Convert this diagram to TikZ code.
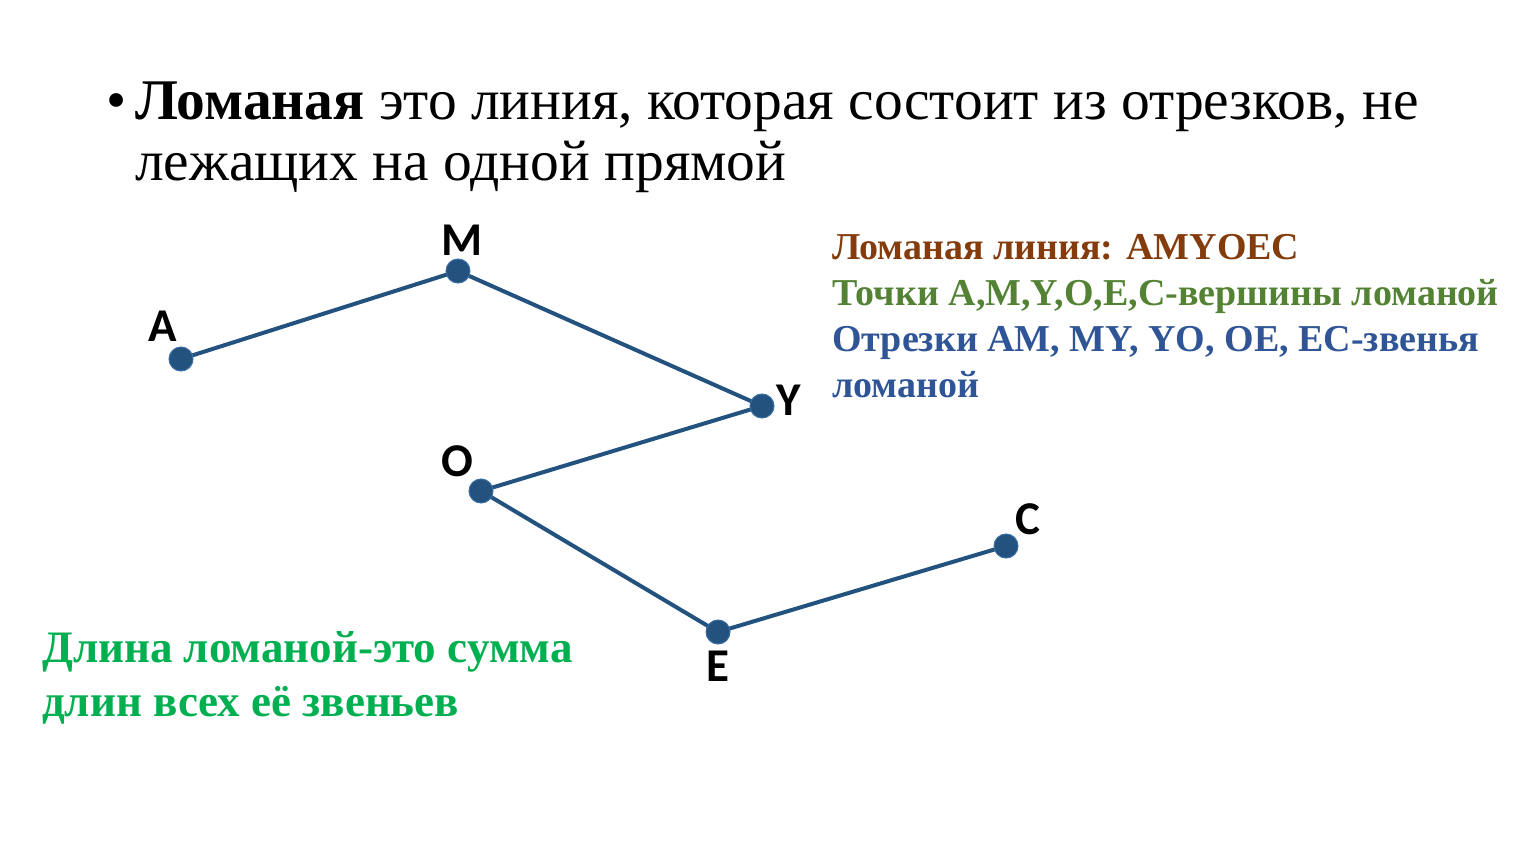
\documentclass[tikz,border=0pt]{standalone}
\usepackage{fontspec}
\setmainfont{Liberation Serif}
\newfontfamily\lblfont{Carlito}[BoldFont={Carlito Bold}]
\definecolor{linecol}{HTML}{24527F}
\definecolor{dotedge}{HTML}{3A6EA5}
\definecolor{browncol}{HTML}{843C0C}
\definecolor{olivecol}{HTML}{548235}
\definecolor{bluecol}{HTML}{2F5597}
\definecolor{greencol}{HTML}{00B050}
\tikzset{
  vtx/.style={circle, fill=linecol, draw=dotedge, line width=1pt, minimum size=24pt, inner sep=0pt},
  lbl/.style={font=\lblfont\bfseries\fontsize{47}{47}\selectfont, text=black, inner sep=0pt},
  seg/.style={draw=linecol, line width=4pt},
  txt/.style={anchor=base west, inner sep=0pt},
}
\begin{document}
\begin{tikzpicture}[x=1pt,y=-1pt]
\useasboundingbox (0,0) rectangle (1533,864);
\fill[white] (0,0) rectangle (1533,864);
% title
\node[txt] (bul) at (106,120) {\fontsize{57.5}{57.5}\selectfont •};
\node[txt] (t1) at (135,120) {\fontsize{57.5}{57.5}\selectfont\textbf{Ломаная} это линия, которая состоит из отрезков, не};
\node[txt] (t2) at (135,180) {\fontsize{57.5}{57.5}\selectfont лежащих на одной прямой};
% polyline
\coordinate (A) at (181,359);
\coordinate (M) at (458,271);
\coordinate (Y) at (762,406);
\coordinate (O) at (481,491);
\coordinate (E) at (718,632);
\coordinate (C) at (1006,546);
\draw[seg] (A) -- (M) -- (Y) -- (O) -- (E) -- (C);
\foreach \p in {A,M,Y,O,E,C} \node[vtx] (v\p) at (\p) {};
\node[lbl] (lA) at (163,326) {A};
\node[lbl] (lM) at (462,240) {M};
\node[lbl] (lY) at (789,400) {Y};
\node[lbl] (lO) at (457,461) {O};
\node[lbl] (lE) at (718,666) {E};
\node[lbl] (lC) at (1028,519) {C};
% right text
\node[txt, text=browncol] (r1) at (832,259) {\fontsize{38}{38}\selectfont\bfseries Ломаная линия: AMYOEC};
\node[txt, text=olivecol] (r2) at (832,305) {\fontsize{38}{38}\selectfont\bfseries Точки A,M,Y,O,E,C-вершины ломаной};
\node[txt, text=bluecol] (r3) at (832,351) {\fontsize{38}{38}\selectfont\bfseries Отрезки AM, MY, YO, OE, EC-звенья};
\node[txt, text=bluecol] (r4) at (832,397) {\fontsize{38}{38}\selectfont\bfseries ломаной};
% bottom text
\node[txt, text=greencol] (b1) at (42,662) {\fontsize{45}{45}\selectfont\bfseries Длина ломаной-это сумма};
\node[txt, text=greencol] (b2) at (42,716) {\fontsize{45}{45}\selectfont\bfseries длин всех её звеньев};
\end{tikzpicture}
\end{document}
